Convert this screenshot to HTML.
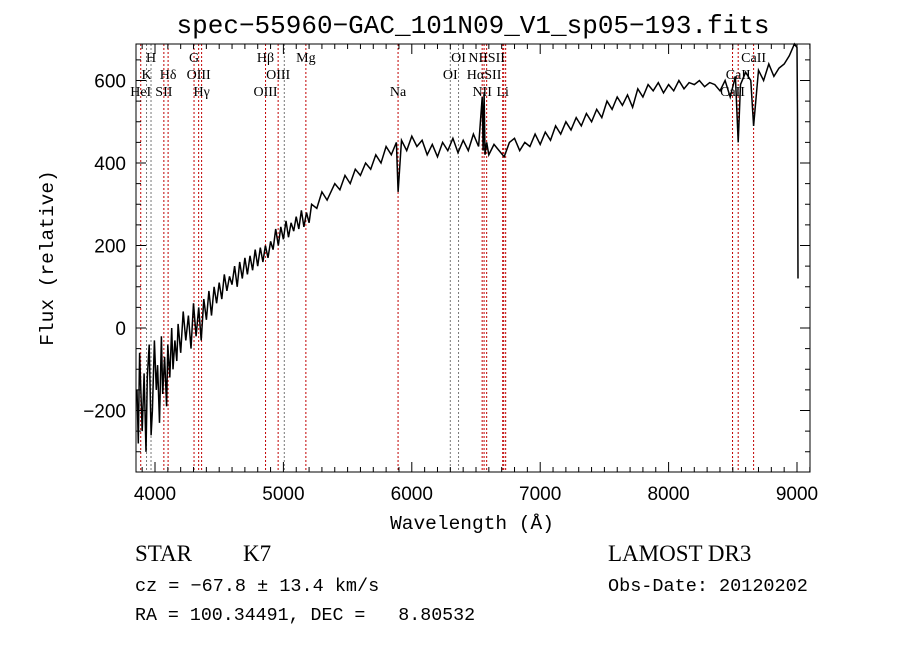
<!DOCTYPE html>
<html><head><meta charset="utf-8">
<style>
body{margin:0;background:#fff;}
svg{display:block;font-family:"Liberation Serif",serif;}
text{white-space:pre;}
</style></head>
<body>
<svg id="chart" width="900" height="649" viewBox="0 0 900 649" xmlns="http://www.w3.org/2000/svg">
<rect width="900" height="649" fill="#fff"/>
<text x="473" y="33" font-size="26" text-anchor="middle" font-family="Liberation Mono, monospace">spec−55960−GAC_101N09_V1_sp05−193.fits</text>
<g id="lines"></g>
<g id="labels"></g>
<path id="spec" fill="none" stroke="#000" stroke-width="1.5"/>
<rect x="136" y="44" width="674" height="428" fill="none" stroke="#000" stroke-width="1"/>
<g id="ticks" stroke="#000" stroke-width="1"></g>
<g id="ticklabels" font-size="19" font-family="Liberation Sans, sans-serif"></g>
<text x="472" y="529" font-size="19.5" text-anchor="middle" font-family="Liberation Mono, monospace">Wavelength (Å)</text>
<text transform="translate(53,258) rotate(-90)" font-size="19.5" text-anchor="middle" font-family="Liberation Mono, monospace">Flux (relative)</text>
<text x="135" y="561" font-size="23">STAR<tspan x="243">K7</tspan></text>
<text x="135" y="591" font-size="18.5" font-family="Liberation Mono, monospace" style="white-space:pre">cz = −67.8 ± 13.4 km/s</text>
<text x="135" y="620" font-size="18.3" font-family="Liberation Mono, monospace" style="white-space:pre">RA = 100.34491, DEC =   8.80532</text>
<text x="608" y="561" font-size="23">LAMOST DR3</text>
<text x="608" y="591" font-size="18.5" font-family="Liberation Mono, monospace">Obs-Date: 20120202</text>
</svg>
<script>
const waves = [3860,3870,3880,3900,3915,3930,3940,3955,3970,3980,3995,4010,4020,4035,4050,4060,4075,4090,4100,4115,4130,4140,4155,4170,4180,4200,4220,4240,4260,4280,4300,4320,4340,4360,4380,4400,4420,4440,4460,4480,4500,4520,4540,4560,4580,4600,4620,4640,4660,4680,4700,4720,4740,4760,4780,4800,4820,4840,4860,4880,4900,4920,4940,4960,4980,5000,5020,5040,5060,5080,5100,5120,5140,5160,5180,5200,5220,5260,5300,5340,5400,5440,5480,5520,5560,5600,5640,5680,5720,5760,5800,5840,5880,5893,5920,5960,6000,6040,6080,6120,6160,6200,6240,6280,6320,6360,6400,6440,6480,6520,6548,6555,6563,6570,6583,6600,6640,6680,6720,6760,6800,6840,6880,6920,6960,7000,7040,7080,7120,7160,7200,7240,7280,7320,7360,7400,7440,7480,7520,7560,7600,7640,7680,7720,7760,7800,7840,7880,7920,7960,8000,8040,8080,8120,8160,8200,8240,8280,8320,8360,8400,8440,8480,8520,8542,8560,8600,8640,8662,8700,8740,8780,8820,8860,8900,8940,8980,9000,9004,9008];
const flux = [-150,-280,-60,-250,-110,-300,-120,-40,-260,-200,-30,-150,-90,-230,-20,-160,-70,-190,-40,-120,0,-100,-30,-80,10,-60,40,-30,30,-50,60,-20,50,-30,70,20,90,30,100,60,110,70,130,90,125,105,150,100,160,120,170,130,175,140,190,150,195,160,200,170,210,190,240,200,245,215,260,220,255,235,270,240,285,245,280,255,300,290,330,310,350,335,370,350,385,370,400,385,420,400,440,420,450,330,455,430,465,440,455,420,445,415,450,430,460,425,455,430,470,440,560,430,572,420,450,420,445,430,415,450,460,430,450,440,470,445,475,455,490,470,500,480,510,490,520,500,530,510,550,530,560,540,565,535,580,560,590,575,595,570,590,575,600,580,595,590,600,585,595,590,575,600,560,610,450,590,620,600,490,625,600,640,610,630,640,660,690,680,520,120];
const lineWaves = [3889,3934,3969,4069,4102,4304,4340,4363,4861,4959,5007,5175,5893,6300,6364,6548,6563,6583,6708,6716,6731,8498,8542,8662];
const lineGray = [0,1,1,0,0,0,0,0,0,0,1,0,0,1,1,0,0,0,0,0,0,0,0,0];
const labelText = ["H","G","Hβ","Mg","OI","NIISII","CaII","K","Hδ","OIII","OIII","OI","HαSII","CaII","HeI","SII","Hγ","OIII","Na","NII","Li","CaII"];
const labelWave = [3969,4304,4861,5175,6364,6583,8662,3934,4102,4340,4959,6300,6563,8542,3889,4069,4363,4861,5893,6548,6708,8498];
const labelRow = [0,0,0,0,0,0,0,1,1,1,1,1,1,1,2,2,2,2,2,2,2,2];
const xTicks = [4000,5000,6000,7000,8000,9000];
const yTicks = [-200,0,200,400,600];

const X0=136,X1=810,Y0=44,Y1=472;
const xs = w => 155 + (w-4000)*0.1284;
const ys = f => 328 - f*0.4125;
const NS="http://www.w3.org/2000/svg";
function mk(tag, parent){const e=document.createElementNS(NS,tag);parent.appendChild(e);return e;}

let d="";
for(let i=0;i<waves.length;i++){
  const x=xs(waves[i]); let y=ys(flux[i]); y=Math.max(Y0,Math.min(Y1,y));
  d += (i?"L":"M")+x.toFixed(1)+","+y.toFixed(1);
}
document.getElementById("spec").setAttribute("d",d);

const lg=document.getElementById("lines");
lineWaves.forEach((w,i)=>{
  const l=mk("line",lg);
  
  
  const x=xs(w);
  l.setAttribute("x1",x);l.setAttribute("x2",x);l.setAttribute("y1",Y0);l.setAttribute("y2",Y1);
  l.setAttribute("stroke",lineGray[i]?"#777":"#c00000");
  l.setAttribute("stroke-width","1");l.setAttribute("stroke-dasharray","2,2");
});
const lb=document.getElementById("labels");
labelText.forEach((t,i)=>{
  const e=mk("text",lb);
  
  
  e.setAttribute("x",xs(labelWave[i]));e.setAttribute("y",62+labelRow[i]*17);
  e.setAttribute("font-size","14");e.setAttribute("text-anchor","middle");
  e.textContent=t;
});
const tg=document.getElementById("ticks");
function tick(x1,y1,x2,y2){const l=mk("line",tg);l.setAttribute("x1",x1);l.setAttribute("y1",y1);l.setAttribute("x2",x2);l.setAttribute("y2",y2);}
for(let w=3900;w<=9100;w+=100){
  const x=xs(w); if(x<X0||x>X1) continue;
  const len = (w%1000===0)?10:5;
  tick(x,Y1,x,Y1-len); tick(x,Y0,x,Y0+len);
}
for(let f=-300;f<=650;f+=50){
  const y=ys(f); if(y<Y0||y>Y1) continue;
  const len=(f%200===0)?10:5;
  tick(X0,y,X0+len,y); tick(X1,y,X1-len,y);
}
const tl=document.getElementById("ticklabels");
xTicks.forEach(w=>{const e=mk("text",tl);
  
  
  e.setAttribute("x",xs(w));e.setAttribute("y",500);e.setAttribute("text-anchor","middle");e.textContent=w;});
yTicks.forEach(f=>{const e=mk("text",tl);
  
  
  e.setAttribute("x",126);e.setAttribute("y",ys(f)+7);e.setAttribute("text-anchor","end");e.textContent=(f<0?"−":"")+Math.abs(f);});
</script>
</body></html>
